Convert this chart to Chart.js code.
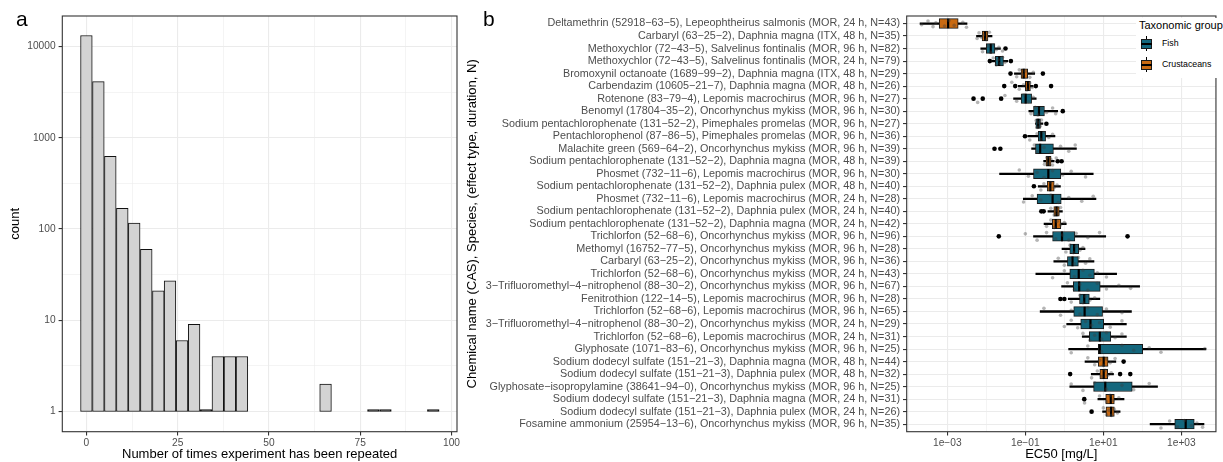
<!DOCTYPE html>
<html>
<head>
<meta charset="utf-8">
<script src="https://cdn.jsdelivr.net/npm/chart.js@4.4.1/dist/chart.umd.min.js"></script>
<style>
  body { margin: 0; width: 1223px; height: 462px; overflow: hidden; position: relative; background: #fff;
         font-family: "Liberation Sans", Arial, sans-serif; }
  canvas { position: absolute; top: 0; }
  #chartRepeats { left: 0; }
  #chartEc50 { left: 464px; }
  .tag { position: absolute; font-size: 21px; line-height: 21px; color: #000; }
  #legend { position: absolute; left: 1136px; top: 18px; width: 87px; height: 60px; background: #fff; }
  #legend .title { position: absolute; left: 3px; top: 1px; font-size: 11px; line-height: 13px; white-space: nowrap; }
  #legend .item { position: absolute; left: 2px; height: 17px; width: 84px; }
  #legend .key { position: absolute; left: 0; top: 0; width: 17px; height: 17px; background: #fff; }
  #legend .wh { position: absolute; left: 8px; top: 1px; width: 1.3px; height: 15px; background: #000; }
  #legend .bx { position: absolute; left: 3px; top: 4px; width: 9px; height: 8px; border: 1px solid #1a1a1a; }
  #legend .md { position: absolute; left: 3px; top: 7.5px; width: 11px; height: 2px; background: #000; }
  #legend .lab { position: absolute; left: 24px; top: 3px; font-size: 8.8px; line-height: 11px; white-space: nowrap; }
</style>
</head>
<body>
<canvas id="chartRepeats" width="470" height="462"></canvas>
<canvas id="chartEc50" width="759" height="462"></canvas>
<div class="tag" style="left:16px; top:8px;">a</div>
<div class="tag" style="left:483px; top:8px;">b</div>
<div id="legend"></div>
<script>
// ---- panel a: histogram of repeats ----
const binCenters = [0, 3.28, 6.55, 9.83, 13.1, 16.4, 19.7, 22.9, 26.2, 29.5, 32.8, 36.0, 39.3, 42.6, 45.9,
                    49.1, 52.4, 55.7, 59.0, 62.2, 65.5, 68.8, 72.1, 75.3, 78.6, 81.9, 85.2, 88.4, 91.7, 95.0];
const binCounts = [13200, 4120, 626, 168, 116, 60, 21, 27, 6, 9, 1, 4, 4, 4, 0,
                   0, 0, 0, 0, 0, 2, 0, 0, 0, 1, 1, 0, 0, 0, 1];
const countMajor = [1, 10, 100, 1000, 10000];
const countMinor = [3.16, 31.6, 316, 3162];
const repeatMajor = [0, 25, 50, 75, 100];
const repeatMinor = [12.5, 37.5, 62.5, 87.5];

// ---- panel b: EC50 boxplots ----
const rowLabels = [
  'Deltamethrin (52918\u221263\u22125), Lepeophtheirus salmonis (MOR, 24 h, N=43)',
  'Carbaryl (63\u221225\u22122), Daphnia magna (ITX, 48 h, N=35)',
  'Methoxychlor (72\u221243\u22125), Salvelinus fontinalis (MOR, 96 h, N=82)',
  'Methoxychlor (72\u221243\u22125), Salvelinus fontinalis (MOR, 24 h, N=79)',
  'Bromoxynil octanoate (1689\u221299\u22122), Daphnia magna (ITX, 48 h, N=29)',
  'Carbendazim (10605\u221221\u22127), Daphnia magna (MOR, 48 h, N=26)',
  'Rotenone (83\u221279\u22124), Lepomis macrochirus (MOR, 96 h, N=27)',
  'Benomyl (17804\u221235\u22122), Oncorhynchus mykiss (MOR, 96 h, N=30)',
  'Sodium pentachlorophenate (131\u221252\u22122), Pimephales promelas (MOR, 96 h, N=27)',
  'Pentachlorophenol (87\u221286\u22125), Pimephales promelas (MOR, 96 h, N=36)',
  'Malachite green (569\u221264\u22122), Oncorhynchus mykiss (MOR, 96 h, N=39)',
  'Sodium pentachlorophenate (131\u221252\u22122), Daphnia magna (MOR, 48 h, N=39)',
  'Phosmet (732\u221211\u22126), Lepomis macrochirus (MOR, 96 h, N=30)',
  'Sodium pentachlorophenate (131\u221252\u22122), Daphnia pulex (MOR, 48 h, N=40)',
  'Phosmet (732\u221211\u22126), Lepomis macrochirus (MOR, 24 h, N=28)',
  'Sodium pentachlorophenate (131\u221252\u22122), Daphnia pulex (MOR, 24 h, N=40)',
  'Sodium pentachlorophenate (131\u221252\u22122), Daphnia magna (MOR, 24 h, N=42)',
  'Trichlorfon (52\u221268\u22126), Oncorhynchus mykiss (MOR, 96 h, N=96)',
  'Methomyl (16752\u221277\u22125), Oncorhynchus mykiss (MOR, 96 h, N=28)',
  'Carbaryl (63\u221225\u22122), Oncorhynchus mykiss (MOR, 96 h, N=36)',
  'Trichlorfon (52\u221268\u22126), Oncorhynchus mykiss (MOR, 24 h, N=43)',
  '3\u2212Trifluoromethyl\u22124\u2212nitrophenol (88\u221230\u22122), Oncorhynchus mykiss (MOR, 96 h, N=67)',
  'Fenitrothion (122\u221214\u22125), Lepomis macrochirus (MOR, 96 h, N=28)',
  'Trichlorfon (52\u221268\u22126), Lepomis macrochirus (MOR, 96 h, N=65)',
  '3\u2212Trifluoromethyl\u22124\u2212nitrophenol (88\u221230\u22122), Oncorhynchus mykiss (MOR, 24 h, N=29)',
  'Trichlorfon (52\u221268\u22126), Lepomis macrochirus (MOR, 24 h, N=31)',
  'Glyphosate (1071\u221283\u22126), Oncorhynchus mykiss (MOR, 96 h, N=25)',
  'Sodium dodecyl sulfate (151\u221221\u22123), Daphnia magna (MOR, 48 h, N=44)',
  'Sodium dodecyl sulfate (151\u221221\u22123), Daphnia pulex (MOR, 48 h, N=32)',
  'Glyphosate\u2212isopropylamine (38641\u221294\u22120), Oncorhynchus mykiss (MOR, 96 h, N=25)',
  'Sodium dodecyl sulfate (151\u221221\u22123), Daphnia magna (MOR, 24 h, N=31)',
  'Sodium dodecyl sulfate (151\u221221\u22123), Daphnia pulex (MOR, 24 h, N=26)',
  'Fosamine ammonium (25954\u221213\u22126), Oncorhynchus mykiss (MOR, 96 h, N=35)'
];
const taxGroup = ['Crustaceans', 'Crustaceans', 'Fish', 'Fish', 'Crustaceans', 'Crustaceans', 'Fish', 'Fish',
                  'Fish', 'Fish', 'Fish', 'Crustaceans', 'Fish', 'Crustaceans', 'Fish', 'Crustaceans',
                  'Crustaceans', 'Fish', 'Fish', 'Fish', 'Fish', 'Fish', 'Fish', 'Fish', 'Fish', 'Fish',
                  'Fish', 'Crustaceans', 'Crustaceans', 'Fish', 'Crustaceans', 'Crustaceans', 'Fish'];
const groupNames = ['Fish', 'Crustaceans'];
const groupColors = { Fish: '#14677d', Crustaceans: '#c96a12' };

const whiskerLow = [2.0e-4, 5.6e-3, 7.2e-3, 0.014, 0.0525, 0.066, 0.050, 0.123, 0.182, 0.115, 0.145,
                    0.295, 0.0219, 0.214, 0.089, 0.38, 0.302, 0.162, 0.871, 0.537, 0.186, 0.851,
                    1.26, 0.24, 1.15, 2.88, 1.29, 3.39, 4.9, 1.38, 7.24, 9.55, 158];
const boxQ1 = [6.2e-4, 7.8e-3, 0.010, 0.017, 0.0776, 0.10, 0.078, 0.162, 0.186, 0.214, 0.182,
               0.339, 0.162, 0.363, 0.20, 0.537, 0.49, 0.50, 1.38, 1.20, 1.38, 1.70,
               2.45, 1.74, 2.63, 4.37, 7.41, 7.41, 8.13, 5.62, 11.5, 11.7, 676];
const boxMedian = [1.05e-3, 9.3e-3, 0.013, 0.0214, 0.091, 0.117, 0.102, 0.224, 0.214, 0.257, 0.24,
                   0.389, 0.389, 0.437, 0.50, 0.631, 0.603, 0.871, 1.78, 1.62, 2.34, 2.40,
                   3.24, 3.31, 4.68, 8.13, 8.13, 10.2, 10.2, 11.2, 15.5, 15.8, 1290];
const boxQ3 = [1.9e-3, 0.011, 0.0166, 0.0275, 0.115, 0.135, 0.145, 0.309, 0.245, 0.331, 0.525,
               0.457, 0.813, 0.55, 0.832, 0.741, 0.813, 1.86, 2.34, 2.29, 5.89, 8.32,
               4.37, 9.55, 10.2, 15.5, 102, 13.2, 12.9, 55, 19.1, 19.1, 2140];
const whiskerHigh = [3.2e-3, 0.014, 0.023, 0.0355, 0.174, 0.158, 0.19, 0.676, 0.282, 0.575, 2.04,
                     0.55, 5.5, 0.794, 6.46, 0.891, 1.12, 11.5, 3.39, 5.75, 21.9, 85.1,
                     8.13, 52.5, 38.9, 38.9, 4270, 20.9, 18.2, 245, 33.9, 26.9, 3800];
const outliers = [[], [], [0.031], [0.0123, 0.0427], [0.0417, 0.282], [0.0288, 0.055, 0.186, 0.457],
                  [0.0047, 0.0081, 0.024], [0.912], [0.347], [0.098], [0.0162, 0.0229],
                  [0.676, 0.851], [], [0.166], [], [0.257, 0.295], [], [0.0209, 41.7], [], [], [], [],
                  [0.794, 1.0], [], [], [], [], [33.1], [1.41, 26.9, 49], [], [3.24], [5.0], []];
// individual measurements (value, vertical jitter in rows)
const jitterPoints = [
  [[2.2e-4, 0.1], [3.2e-4, -0.2], [4.3e-4, 0.25], [5.1e-4, -0.05], [8.5e-4, 0.2], [1.1e-3, -0.25], [1.5e-3, 0.15], [2.5e-3, -0.1], [3.1e-3, 0.3]],
  [[5.8e-3, 0.2], [6.5e-3, -0.25], [7.5e-3, 0.1], [8.5e-3, -0.1], [0.010, 0.3], [0.012, -0.3]],
  [[0.008, 0.25], [0.011, -0.2], [0.013, 0.3], [0.015, -0.3], [0.018, 0.1], [0.021, -0.1], [0.026, 0.2]],
  [[0.015, -0.25], [0.018, 0.3], [0.020, -0.1], [0.023, 0.2], [0.026, -0.3], [0.030, 0.1]],
  [[0.06, 0.25], [0.07, -0.3], [0.085, 0.1], [0.10, -0.2], [0.13, 0.3], [0.16, -0.1]],
  [[0.045, -0.3], [0.07, 0.25], [0.09, -0.1], [0.11, 0.3], [0.13, -0.25], [0.15, 0.1]],
  [[0.006, 0.3], [0.03, -0.25], [0.06, 0.2], [0.09, -0.3], [0.12, 0.25], [0.16, -0.1]],
  [[0.14, 0.2], [0.18, -0.3], [0.21, 0.3], [0.26, -0.2], [0.35, 0.1], [0.5, -0.25], [0.6, 0.2]],
  [[0.19, -0.25], [0.2, 0.3], [0.22, -0.1], [0.24, 0.2], [0.26, -0.3]],
  [[0.13, 0.3], [0.2, -0.2], [0.25, 0.25], [0.3, -0.3], [0.4, 0.1], [0.5, -0.15]],
  [[0.17, -0.3], [0.2, 0.25], [0.3, -0.1], [0.45, 0.3], [0.8, -0.2], [1.3, 0.2], [1.9, -0.3]],
  [[0.31, 0.25], [0.36, -0.3], [0.4, 0.2], [0.45, -0.15], [0.5, 0.3], [0.62, -0.25]],
  [[0.07, -0.3], [0.12, 0.2], [0.2, -0.1], [0.3, 0.3], [0.5, -0.25], [0.9, 0.1], [1.5, -0.2], [3.5, 0.25]],
  [[0.25, 0.3], [0.3, -0.2], [0.4, 0.2], [0.45, -0.3], [0.55, 0.1], [0.65, -0.1]],
  [[0.09, 0.25], [0.15, -0.25], [0.25, 0.1], [0.45, -0.3], [0.7, 0.3], [1.3, -0.1], [2.8, 0.2], [5.5, -0.2]],
  [[0.45, -0.25], [0.55, 0.3], [0.62, -0.1], [0.7, 0.2], [0.8, -0.3]],
  [[0.35, 0.2], [0.45, -0.3], [0.55, 0.3], [0.65, -0.2], [0.8, 0.1], [1.0, -0.1]],
  [[0.1, -0.2], [0.2, 0.3], [0.35, -0.3], [0.6, 0.2], [0.9, -0.1], [1.3, 0.3], [2, -0.25], [4, 0.1], [8, -0.3]],
  [[1.1, 0.25], [1.4, -0.3], [1.7, 0.3], [2.0, -0.2], [2.5, 0.1], [3, -0.1]],
  [[0.7, -0.25], [1.0, 0.3], [1.4, -0.1], [1.8, 0.2], [2.3, -0.3], [3.5, 0.15], [4.5, -0.2]],
  [[0.5, 0.3], [1.0, -0.25], [1.8, 0.2], [3, -0.3], [4.5, 0.1], [7, -0.1], [12, 0.25]],
  [[1.2, -0.3], [1.8, 0.25], [2.5, -0.15], [4, 0.3], [7, -0.25], [12, 0.2], [25, -0.1], [50, 0.15]],
  [[1.5, 0.25], [2.5, -0.3], [3, 0.3], [3.5, -0.2], [4.5, 0.1], [6, -0.1]],
  [[0.3, -0.25], [0.8, 0.3], [1.5, -0.1], [2.5, 0.2], [4, -0.3], [7, 0.25], [12, -0.2], [30, 0.1]],
  [[1.0, 0.2], [1.5, -0.3], [2.2, 0.3], [3.5, -0.2], [5, 0.1], [8, -0.1], [15, 0.25], [30, -0.25]],
  [[3, -0.25], [4.5, 0.3], [6, -0.1], [9, 0.2], [12, -0.3], [20, 0.1], [30, -0.2]],
  [[1.5, 0.3], [4, -0.25], [9, 0.2], [30, -0.3], [60, 0.1], [150, -0.1], [300, 0.25], [4000, -0.05]],
  [[4, -0.3], [6, 0.25], [8, -0.1], [10, 0.3], [12, -0.2], [15, 0.1], [20, -0.25]],
  [[5, 0.3], [7, -0.25], [9, 0.2], [11, -0.3], [13, 0.1], [16, -0.1]],
  [[1.5, -0.2], [3, 0.3], [6, -0.3], [12, 0.2], [30, -0.1], [60, 0.25], [150, -0.25]],
  [[3.3, 0.3], [8, -0.25], [12, 0.2], [15, -0.3], [18, 0.1], [25, -0.1]],
  [[10, -0.3], [12, 0.25], [14, -0.1], [16, 0.3], [19, -0.2], [23, 0.1]],
  [[300, 0.3], [500, -0.25], [800, 0.2], [1200, -0.3], [1800, 0.1], [2500, -0.1], [3500, 0.25]]
];
const ec50TickValues = [1e-4, 1e-3, 1e-2, 1e-1, 1, 10, 100, 1000];
const ec50TickLabels = ['', '1e\u221203', '', '1e\u221201', '', '1e+01', '', '1e+03'];

const FONT = '"Liberation Sans", Arial, sans-serif';
const tickFont = { family: FONT, size: 10.2 };
const rowFont = { family: FONT, size: 10.8 };
const titleFont = { family: FONT, size: 13 };
const gridColor = '#ebebeb';

const frame = {
  id: 'frame',
  afterDraw(chart) {
    const a = chart.chartArea, c = chart.ctx;
    c.save();
    c.strokeStyle = '#333333';
    c.lineWidth = 1.1;
    c.strokeRect(a.left, a.top, a.right - a.left, a.bottom - a.top);
    c.restore();
  }
};

function setTicks(major, minor) {
  return scale => {
    const all = major.map(v => ({ value: v, isMajor: true }))
      .concat(minor.map(v => ({ value: v, isMajor: false })));
    all.sort((p, q) => p.value - q.value);
    scale.ticks = all;
  };
}
function gridStyle() {
  return {
    offset: false,
    color: gridColor,
    lineWidth: c => (c.tick && c.tick.isMajor ? 1.1 : 0.55),
    drawTicks: true,
    tickLength: 3.7,
    tickWidth: 1.1,
    tickColor: c => (c.tick && c.tick.isMajor ? '#333333' : 'rgba(0,0,0,0)')
  };
}

new Chart(document.getElementById('chartRepeats'), {
  type: 'bar',
  data: {
    datasets: [{
      data: binCenters.map((x, i) => ({ x: x, y: binCounts[i] > 0 ? [1, binCounts[i]] : null })),
      // a count of one collapses to a flat dark line on the log axis
      backgroundColor: binCounts.map(n => (n === 1 ? '#111111' : '#d3d3d3')),
      borderColor: '#111111',
      borderWidth: 1,
      borderSkipped: false,
      minBarLength: 2,
      categoryPercentage: 1,
      barPercentage: 1
    }]
  },
  options: {
    responsive: false,
    animation: false,
    layout: { padding: { left: 0, top: 16, right: 13, bottom: 0 } },
    plugins: { legend: { display: false }, tooltip: { enabled: false } },
    scales: {
      x: {
        type: 'linear', min: -6.6, max: 101.5, offset: false,
        afterBuildTicks: setTicks(repeatMajor, repeatMinor),
        afterFit: s => { s.height = 30.3; },
        grid: gridStyle(),
        border: { display: false },
        ticks: { autoSkip: false, maxRotation: 0, padding: 1.5, color: '#4d4d4d', font: tickFont,
                 callback: v => (repeatMajor.includes(v) ? String(v) : '') },
        title: { display: true, text: 'Number of times experiment has been repeated', color: '#000',
                 font: titleFont, padding: { top: 0, bottom: 0 } }
      },
      y: {
        type: 'logarithmic', min: 0.625, max: 21600, offset: false, beginAtZero: false,
        afterBuildTicks: setTicks(countMajor, countMinor),
        afterFit: s => { s.width = 62.3; },
        grid: gridStyle(),
        border: { display: false },
        ticks: { autoSkip: false, padding: 3, color: '#4d4d4d', font: tickFont,
                 callback: v => (countMajor.includes(v) ? String(v) : '') },
        title: { display: true, text: 'count', color: '#000', font: titleFont, padding: { top: 8 } }
      }
    }
  },
  plugins: [frame]
});

const rowIdx = rowLabels.map((_, i) => i);
new Chart(document.getElementById('chartEc50'), {
  type: 'bar',
  data: {
    datasets: [
      {
        type: 'scatter', order: 1,
        data: jitterPoints.flatMap((pts, i) => pts.map(p => ({ x: p[0], y: i + p[1] }))),
        pointRadius: 1.8, backgroundColor: 'rgba(60,60,60,0.38)', borderWidth: 0
      },
      {
        type: 'scatter', order: 2,
        data: outliers.flatMap((vals, i) => vals.map(v => ({ x: v, y: i }))),
        pointRadius: 2.3, backgroundColor: '#000', borderWidth: 0
      },
      {
        type: 'scatter', order: 3,
        data: rowIdx.map(i => ({ x: boxMedian[i], y: i })),
        pointStyle: 'line', rotation: 90, pointRadius: 4.85, borderColor: '#000', borderWidth: 2.2
      },
      {
        type: 'bar', order: 4, indexAxis: 'y', grouped: false,
        data: rowIdx.map(i => ({ x: [boxQ1[i], boxQ3[i]], y: i })),
        backgroundColor: rowIdx.map(i => groupColors[taxGroup[i]]),
        borderColor: '#1a1a1a', borderWidth: 1, borderSkipped: false, barThickness: 9.7
      },
      {
        type: 'bar', order: 5, indexAxis: 'y', grouped: false,
        data: rowIdx.map(i => ({ x: [whiskerLow[i], whiskerHigh[i]], y: i })),
        backgroundColor: '#000', borderWidth: 0, barThickness: 1.6
      }
    ]
  },
  options: {
    indexAxis: 'y',
    responsive: false,
    animation: false,
    layout: { padding: { left: 0, top: 16, right: 2, bottom: 0 } },
    plugins: { legend: { display: false }, tooltip: { enabled: false } },
    scales: {
      x: {
        type: 'logarithmic', min: 9.1e-5, max: 7.7e3, offset: false, beginAtZero: false,
        afterBuildTicks: scale => {
          scale.ticks = ec50TickValues.map((v, i) => ({ value: v, isMajor: ec50TickLabels[i] !== '' }));
        },
        afterFit: s => { s.height = 30.3; },
        grid: gridStyle(),
        border: { display: false },
        ticks: { autoSkip: false, maxRotation: 0, padding: 1.5, color: '#4d4d4d', font: tickFont,
                 callback: v => ec50TickLabels[ec50TickValues.indexOf(v)] || '' },
        title: { display: true, text: 'EC50 [mg/L]', color: '#000', font: titleFont, padding: { top: 0, bottom: 0 } }
      },
      y: {
        type: 'linear', reverse: true, min: -0.6, max: rowLabels.length - 0.4, offset: false,
        afterBuildTicks: scale => { scale.ticks = rowIdx.map(i => ({ value: i, isMajor: true })); },
        afterFit: s => { s.width = 442.7; },
        grid: gridStyle(),
        border: { display: false },
        ticks: { autoSkip: false, padding: 3, color: '#4d4d4d', font: rowFont,
                 callback: v => rowLabels[v] },
        title: { display: true, text: 'Chemical name (CAS), Species, (effect type, duration, N)',
                 color: '#000', font: titleFont, padding: { top: 0.2 } }
      }
    }
  },
  plugins: [frame]
});

// legend for taxonomic group
const legend = document.getElementById('legend');
legend.innerHTML = '<div class="title">Taxonomic group</div>' + groupNames.map((g, k) =>
  '<div class="item" style="top:' + (17 + k * 21) + 'px"><div class="key"><div class="wh"></div>' +
  '<div class="bx" style="background:' + groupColors[g] + '"></div><div class="md"></div></div>' +
  '<div class="lab">' + g + '</div></div>').join('');
</script>
</body>
</html>
